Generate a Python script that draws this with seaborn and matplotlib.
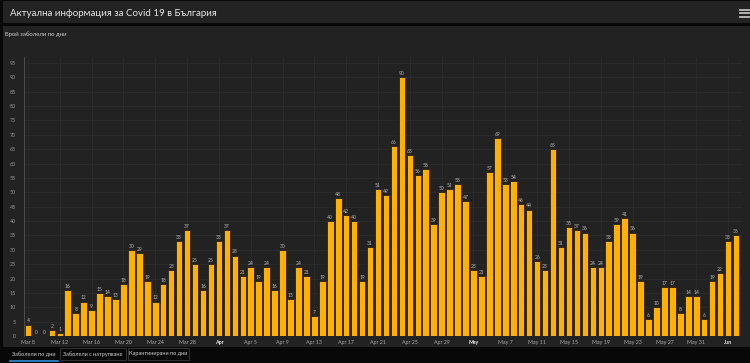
import matplotlib
matplotlib.use("Agg")
import matplotlib.pyplot as plt
from matplotlib.patches import Rectangle
from matplotlib.lines import Line2D
import seaborn as sns
import pandas as pd
import numpy as np

# ---- data ----
start_date = "2020-03-08"
daily_cases = [4, 0, 0, 2, 1, 16, 8, 12, 9, 15, 14, 13, 18, 30, 29, 19, 12, 18, 23, 33,
               37, 25, 16, 25, 33, 37, 28, 21, 24, 19, 24, 16, 30, 13, 24, 21, 7, 19, 40, 48,
               42, 40, 19, 31, 51, 49, 66, 90, 63, 56, 58, 39, 50, 51, 53, 47, 23, 21, 57, 69,
               53, 54, 46, 44, 26, 23, 65, 31, 38, 37, 36, 24, 24, 33, 39, 41, 36, 19, 6, 10,
               17, 17, 8, 14, 14, 6, 19, 22, 33, 35]
tick_labels = ["Mar 8", "Mar 12", "Mar 16", "Mar 20", "Mar 24", "Mar 28", "Apr", "Apr 5",
               "Apr 9", "Apr 13", "Apr 17", "Apr 21", "Apr 25", "Apr 29", "May", "May 7",
               "May 11", "May 15", "May 19", "May 23", "May 27", "May 31", "Jun"]
y_ticks = list(range(0, 100, 5))
title = "Актуална информация за Covid 19 в България"
subtitle = "Брой заболели по дни"
tabs = ["Заболели по дни", "Заболели с натрупване", "Карантинирани по дни"]

dates = pd.date_range(start_date, periods=len(daily_cases))
df = pd.DataFrame({"date": dates.strftime("%Y-%m-%d"), "cases": daily_cases})

W, H = 750, 363
plt.rcParams["font.family"] = ["Lato", "DejaVu Sans"]
fig = plt.figure(figsize=(W / 100, H / 100), dpi=100, facecolor="#080808")

def fx(px):
    return px / W

def fy(py):
    return 1 - py / H

# header & panel backgrounds
fig.patches.append(Rectangle((fx(3), fy(23)), fx(747), 22 / H, transform=fig.transFigure,
                             facecolor="#232323", edgecolor="none", zorder=-5))
fig.patches.append(Rectangle((fx(3), fy(347)), fx(747), 321 / H, transform=fig.transFigure,
                             facecolor="#222222", edgecolor="none", zorder=-5))
fig.text(fx(10), fy(13), title, color="#e6e6e6", fontsize=7.0, va="center", ha="left")
fig.text(fx(5), fy(34), subtitle, color="#cfcfcf", fontsize=4.3, va="center", ha="left")
# hamburger icon
for yy in (9.5, 13, 16.5):
    fig.lines.append(Line2D([fx(740), fx(749)], [fy(yy), fy(yy)], transform=fig.transFigure,
                            color="#bdbdbd", linewidth=1.3))

# plot axes: y=0 at px 336, 2.874 px per unit; bar i at px 28 + 7.955*i
ax = fig.add_axes([fx(24), fy(336), fx(718), (336 - 57.2) / H])
ax.set_zorder(2)
ax.set_facecolor("#222222")
sns.barplot(data=df, x="date", y="cases", ax=ax, color="#FFB000", saturation=1,
            width=0.82, edgecolor="#2a2210", linewidth=0.6)
ax.set_xlim(-0.5, 89.75)
ax.set_ylim(0, 97)
ax.bar_label(ax.containers[0], fontsize=3.6, color="#b8b8b8", padding=0.8)

tick_pos = np.arange(0, 4 * len(tick_labels), 4)
ax.set_xticks(tick_pos)
ax.set_xticklabels(tick_labels)
for lbl in ax.get_xticklabels():
    if " " not in lbl.get_text():
        lbl.set_color("#e8e8e8")
        lbl.set_fontweight("bold")
    else:
        lbl.set_color("#a8a8a8")
ax.set_yticks(y_ticks)
ax.tick_params(axis="x", labelsize=3.8, length=0, pad=3)
ax.tick_params(axis="y", labelsize=3.8, length=0, pad=6, labelcolor="#9a9a9a")
ax.set_xlabel("")
ax.set_ylabel("")
ax.grid(True, color="#2e2e2e", linewidth=0.5)
ax.set_axisbelow(True)
for side in ("top", "right", "bottom"):
    ax.spines[side].set_visible(False)
ax.spines["left"].set_color("#555555")
ax.spines["left"].set_linewidth(0.6)

# bottom tabs
tab_boxes = [(10, 58), (60, 126), (128, 189)]
for i, ((x0, x1), name) in enumerate(zip(tab_boxes, tabs)):
    if i > 0:
        fig.patches.append(Rectangle((fx(x0), fy(360)), fx(x1 - x0), 12 / H,
                                     transform=fig.transFigure, facecolor="none",
                                     edgecolor="#3a3a3a", linewidth=0.6))
    fig.text(fx((x0 + x1) / 2), fy(354), name, color="#d0d0d0", fontsize=4.0,
             ha="center", va="center")
fig.lines.append(Line2D([fx(10), fx(58)], [fy(360.5), fy(360.5)], transform=fig.transFigure,
                        color="#2f8fd8", linewidth=1.2))

fig.savefig("out.png", dpi=100, facecolor=fig.get_facecolor())
